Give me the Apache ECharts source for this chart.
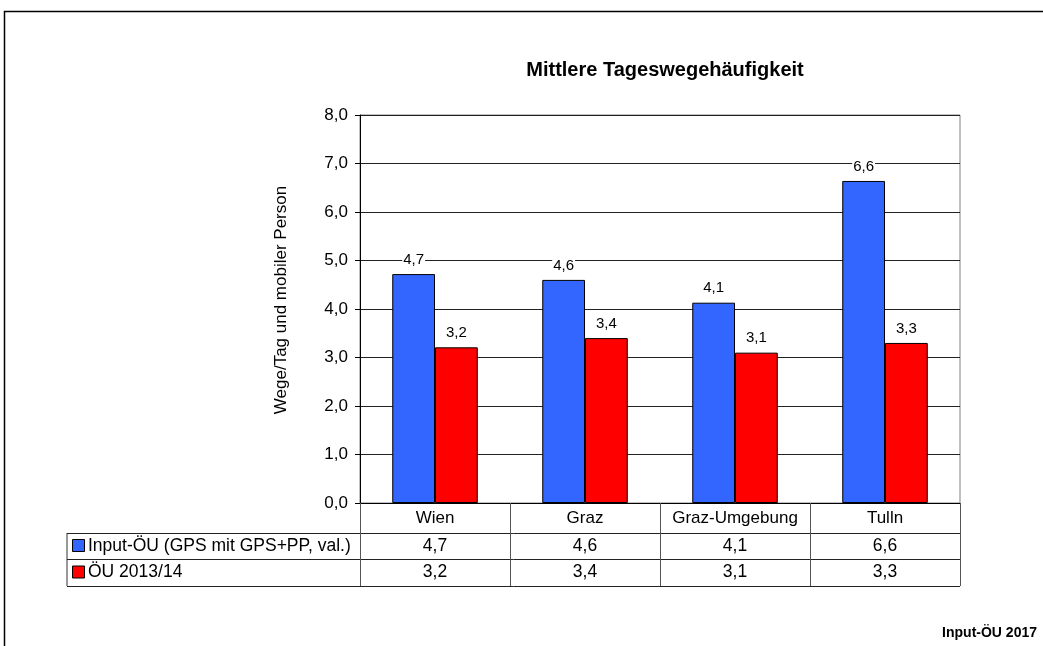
<!DOCTYPE html>
<html lang="de">
<head>
    <meta charset="UTF-8">
    <title>Mittlere Tageswegehäufigkeit</title>
    <script src="https://cdn.jsdelivr.net/npm/echarts@6.0.0/dist/echarts.min.js"></script>
    <style>
        body { margin: 0; background: #fff; }
    </style>
</head>
<body>
    <div id="main" style="width: 1043px;height:646px;"></div>
    <script type="text/javascript">
        // data
        const categories = ['Wien', 'Graz', 'Graz-Umgebung', 'Tulln'];
        const seriesNames = ['Input-ÖU (GPS mit GPS+PP, val.)', 'ÖU 2013/14'];
        const inputOU = [4.72, 4.60, 4.13, 6.64];
        const ou2013 = [3.21, 3.40, 3.10, 3.30];
        const yTicks = [0, 1, 2, 3, 4, 5, 6, 7, 8];
        const colors = ['#3366FF', '#FF0000'];

        const fmt = v => v.toFixed(1).replace('.', ',');
        const font = 'Liberation Sans, Arial, sans-serif';

        // plot box
        const gridL = 360, gridR = 960, gridT = 115, gridB = 503;
        const rowY = [gridB, 533, 559, 586];
        const tableLeft = 67;

        let myChart = echarts.init(document.getElementById('main'));

        let options = {
            animation: false,
            textStyle: { fontFamily: font },
            title: {
                text: 'Mittlere Tageswegehäufigkeit',
                left: (gridL + gridR) / 2,
                top: 55,
                textAlign: 'center',
                textStyle: { fontSize: 20, fontWeight: 'bold', color: '#000', fontFamily: font }
            },
            grid: {
                left: gridL, right: 1043 - gridR, top: gridT, bottom: 646 - gridB,
                show: true, borderColor: '#808080', borderWidth: 1
            },
            xAxis: {
                type: 'category',
                data: categories,
                axisLine: { lineStyle: { color: '#000' } },
                axisTick: { show: true, interval: 0, length: rowY[3] - gridB, lineStyle: { color: '#555' } },
                axisLabel: { color: '#000', fontSize: 17, margin: 7, interval: 0 }
            },
            yAxis: {
                type: 'value',
                min: yTicks[0],
                max: yTicks[yTicks.length - 1],
                interval: 1,
                name: 'Wege/Tag und mobiler Person',
                nameLocation: 'middle',
                nameGap: 70,
                nameTextStyle: { color: '#000', fontSize: 17, padding: [0, 0, 0, 18] },
                axisLine: { show: true, lineStyle: { color: '#000' } },
                axisTick: { show: true, length: 5, lineStyle: { color: '#000' } },
                axisLabel: { color: '#000', fontSize: 17, margin: 12, formatter: v => fmt(v) },
                splitLine: { lineStyle: { color: '#222' } }
            },
            series: [inputOU, ou2013].map((vals, i) => ({
                name: seriesNames[i],
                type: 'bar',
                data: vals,
                barGap: '0%',
                barCategoryGap: '43%',
                itemStyle: { color: colors[i], borderColor: '#000', borderWidth: 1 },
                label: {
                    show: true,
                    position: 'top',
                    distance: 7,
                    color: '#000',
                    fontSize: 15,
                    backgroundColor: '#fff',
                    padding: [0, 1],
                    formatter: p => fmt(p.value)
                }
            }))
        };

        myChart.setOption(options);

        // data table below the plot
        const graphics = [
            {
                type: 'rect',
                shape: { x: 4.5, y: 11.5, width: 1100, height: 700 },
                style: { fill: 'none', stroke: '#000', lineWidth: 1.5 },
                silent: true
            },
            {
                type: 'text',
                right: 6, top: 626,
                style: { text: 'Input-ÖU 2017', fill: '#000', font: 'bold 14px ' + font }
            },
            {
                type: 'line',
                shape: { x1: tableLeft, y1: rowY[1], x2: tableLeft, y2: rowY[3] },
                style: { stroke: '#333', lineWidth: 1 }
            }
        ];
        rowY.slice(1).forEach(y => {
            graphics.push({
                type: 'line',
                shape: { x1: tableLeft, y1: y + 0.5, x2: gridR, y2: y + 0.5 },
                style: { stroke: '#222', lineWidth: 1 }
            });
        });
        [inputOU, ou2013].forEach((vals, i) => {
            const cy = (rowY[i + 1] + rowY[i + 2]) / 2;
            graphics.push({
                type: 'rect',
                shape: { x: 72.5, y: cy - 6.5, width: 12, height: 12 },
                style: { fill: colors[i], stroke: '#000', lineWidth: 1 }
            });
            graphics.push({
                type: 'text',
                x: 88, y: cy,
                style: { text: seriesNames[i], fill: '#000', font: '17.5px ' + font, verticalAlign: 'middle' }
            });
            vals.forEach((v, j) => {
                const cx = myChart.convertToPixel({ xAxisIndex: 0 }, categories[j]);
                graphics.push({
                    type: 'text',
                    x: cx, y: cy,
                    style: { text: fmt(v), fill: '#000', font: '17.5px ' + font, align: 'center', verticalAlign: 'middle' }
                });
            });
        });

        myChart.setOption({ graphic: graphics });
    </script>
</body>
</html>
